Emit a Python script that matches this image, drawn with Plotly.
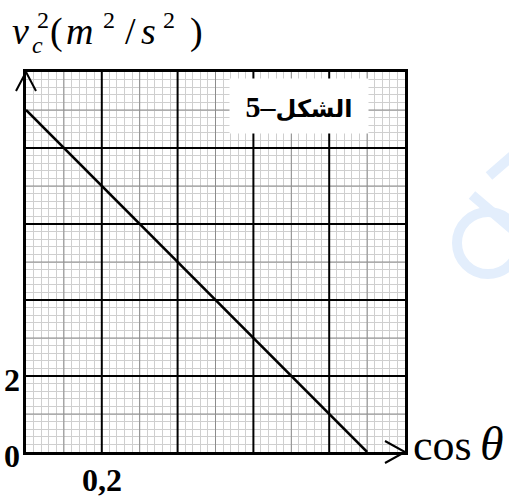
import numpy as np
import plotly.graph_objects as go

# line: v_c^2 against cos(theta)
cos_theta = [0.0, 0.9]
vc2 = [9.0, 0.0]

x_ticks = [0.2]
x_labels = ["0,2"]
y_ticks = [0, 2]
y_labels = ["0", "2"]

W, H = 509, 497
L, R, T, B = 26, 405, 72, 452   # plot area in pixels


def px(x):
    return (x - L) / (R - L)


def py(y):
    return (B - y) / (B - T)


def grid_trace(xs, ys, color, width):
    return go.Scatter(x=xs, y=ys, mode="lines", line=dict(color=color, width=width),
                      showlegend=False, hoverinfo="skip")


def grid_xy(vx, vy):
    xs, ys = [], []
    for v in vx:
        xs += [v, v, None]
        ys += [0, 10, None]
    for v in vy:
        xs += [0, 1, None]
        ys += [v, v, None]
    return xs, ys


fig = go.Figure()
# half-unit grid lines (darker grey), then the main black grid
fig.add_trace(grid_trace(*grid_xy(np.arange(0.1, 1.0, 0.2), np.arange(1, 10, 2)), "#8c8c8c", 1))
fig.add_trace(grid_trace(*grid_xy(np.arange(0.2, 1.0, 0.2), np.arange(2, 10, 2)), "black", 2))
fig.add_trace(go.Scatter(x=cos_theta, y=vc2, mode="lines",
                         line=dict(color="black", width=2.5),
                         showlegend=False, hoverinfo="skip"))

# arrow heads on both axes
shapes = [
    dict(type="path", xref="paper", yref="paper",
         path=f"M{px(16)},{py(91)} L{px(26)},{py(72)} L{px(36)},{py(91)}",
         line=dict(color="black", width=2)),
    dict(type="path", xref="paper", yref="paper",
         path=f"M{px(385)},{py(441)} L{px(405)},{py(452)} L{px(385)},{py(463)}",
         line=dict(color="black", width=2)),
]
# faint watermark strokes at the right edge
wm = dict(color="#e3eefc", width=10)
shapes += [
    dict(type="circle", xref="paper", yref="paper", x0=px(457), x1=px(519),
         y0=py(274), y1=py(212), line=wm),
    dict(type="line", xref="paper", yref="paper", x0=px(472), y0=py(195),
         x1=px(512), y1=py(229), line=wm),
    dict(type="line", xref="paper", yref="paper", x0=px(489), y0=py(176),
         x1=px(512), y1=py(156), line=wm),
]

serif = "Liberation Serif, Times New Roman, serif"
# (text, centre x, centre y, size) in pixels
label_parts = [
    ("<i>v</i>", 20, 31, 38),
    ("<i>c</i>", 37, 45, 24),
    ("2", 43, 20, 24),
    ("(", 56, 31, 38),
    ("<i>m</i>", 79, 31, 38),
    ("2", 109, 20, 24),
    ("/", 130, 31, 38),
    ("<i>s</i>", 148, 31, 38),
    ("2", 169, 20, 24),
    (")", 196, 31, 38),
    ("cos", 442, 445, 44),
    ("<i>\u03b8</i>", 492, 443, 48),
]
ann = []
for txt, cx, cy, sz in label_parts:
    ann.append(dict(x=px(cx), y=py(cy), xref="paper", yref="paper", text=txt,
                    xanchor="center", yanchor="middle", showarrow=False,
                    font=dict(family=serif, size=sz, color="black")))

# tick labels, placed on the axes' own scales
tick_font = dict(family=serif, size=32, color="black", weight="bold")
for v, t in zip(y_ticks, y_labels):
    ann.append(dict(x=px(22), y=v, xref="paper", yref="y", text=t, yshift=-4,
                    xanchor="right", yanchor="middle", showarrow=False, font=tick_font))
for v, t in zip(x_ticks, x_labels):
    ann.append(dict(x=v, y=0, xref="x", yref="paper", text=t, yshift=-28,
                    xanchor="center", yanchor="middle", showarrow=False, font=tick_font))

ann.append(dict(x=px(299), y=py(106), xref="paper", yref="paper",
                xanchor="center", yanchor="middle",
                text="<b><span style='font-family:Liberation Serif;font-size:30px'>5\u2013</span>"
                     "\u0627\u0644\u0634\u0643\u0644</b>",
                font=dict(size=24, family="DejaVu Sans", color="black"),
                bgcolor="white", width=138, height=54, borderpad=0,
                showarrow=False))

axis_common = dict(automargin=False, showgrid=False, zeroline=False,
                   showline=True, mirror=True, linecolor="black", linewidth=2.5,
                   ticks="", showticklabels=False)

fig.update_layout(
    width=W, height=H,
    margin=dict(l=L, r=W - R, t=T, b=H - B),
    plot_bgcolor="white", paper_bgcolor="white",
    shapes=shapes, annotations=ann,
    xaxis=dict(range=[0, 1],
               minor=dict(tickmode="linear", dtick=0.02, tick0=0, showgrid=True,
                          gridcolor="#cfcfcf", gridwidth=1),
               **axis_common),
    yaxis=dict(range=[0, 10],
               minor=dict(tickmode="linear", dtick=0.2, tick0=0, showgrid=True,
                          gridcolor="#cfcfcf", gridwidth=1),
               **axis_common),
)

fig.write_html("out.html", config={"displayModeBar": False},
               post_script="document.body.style.margin='0';")
